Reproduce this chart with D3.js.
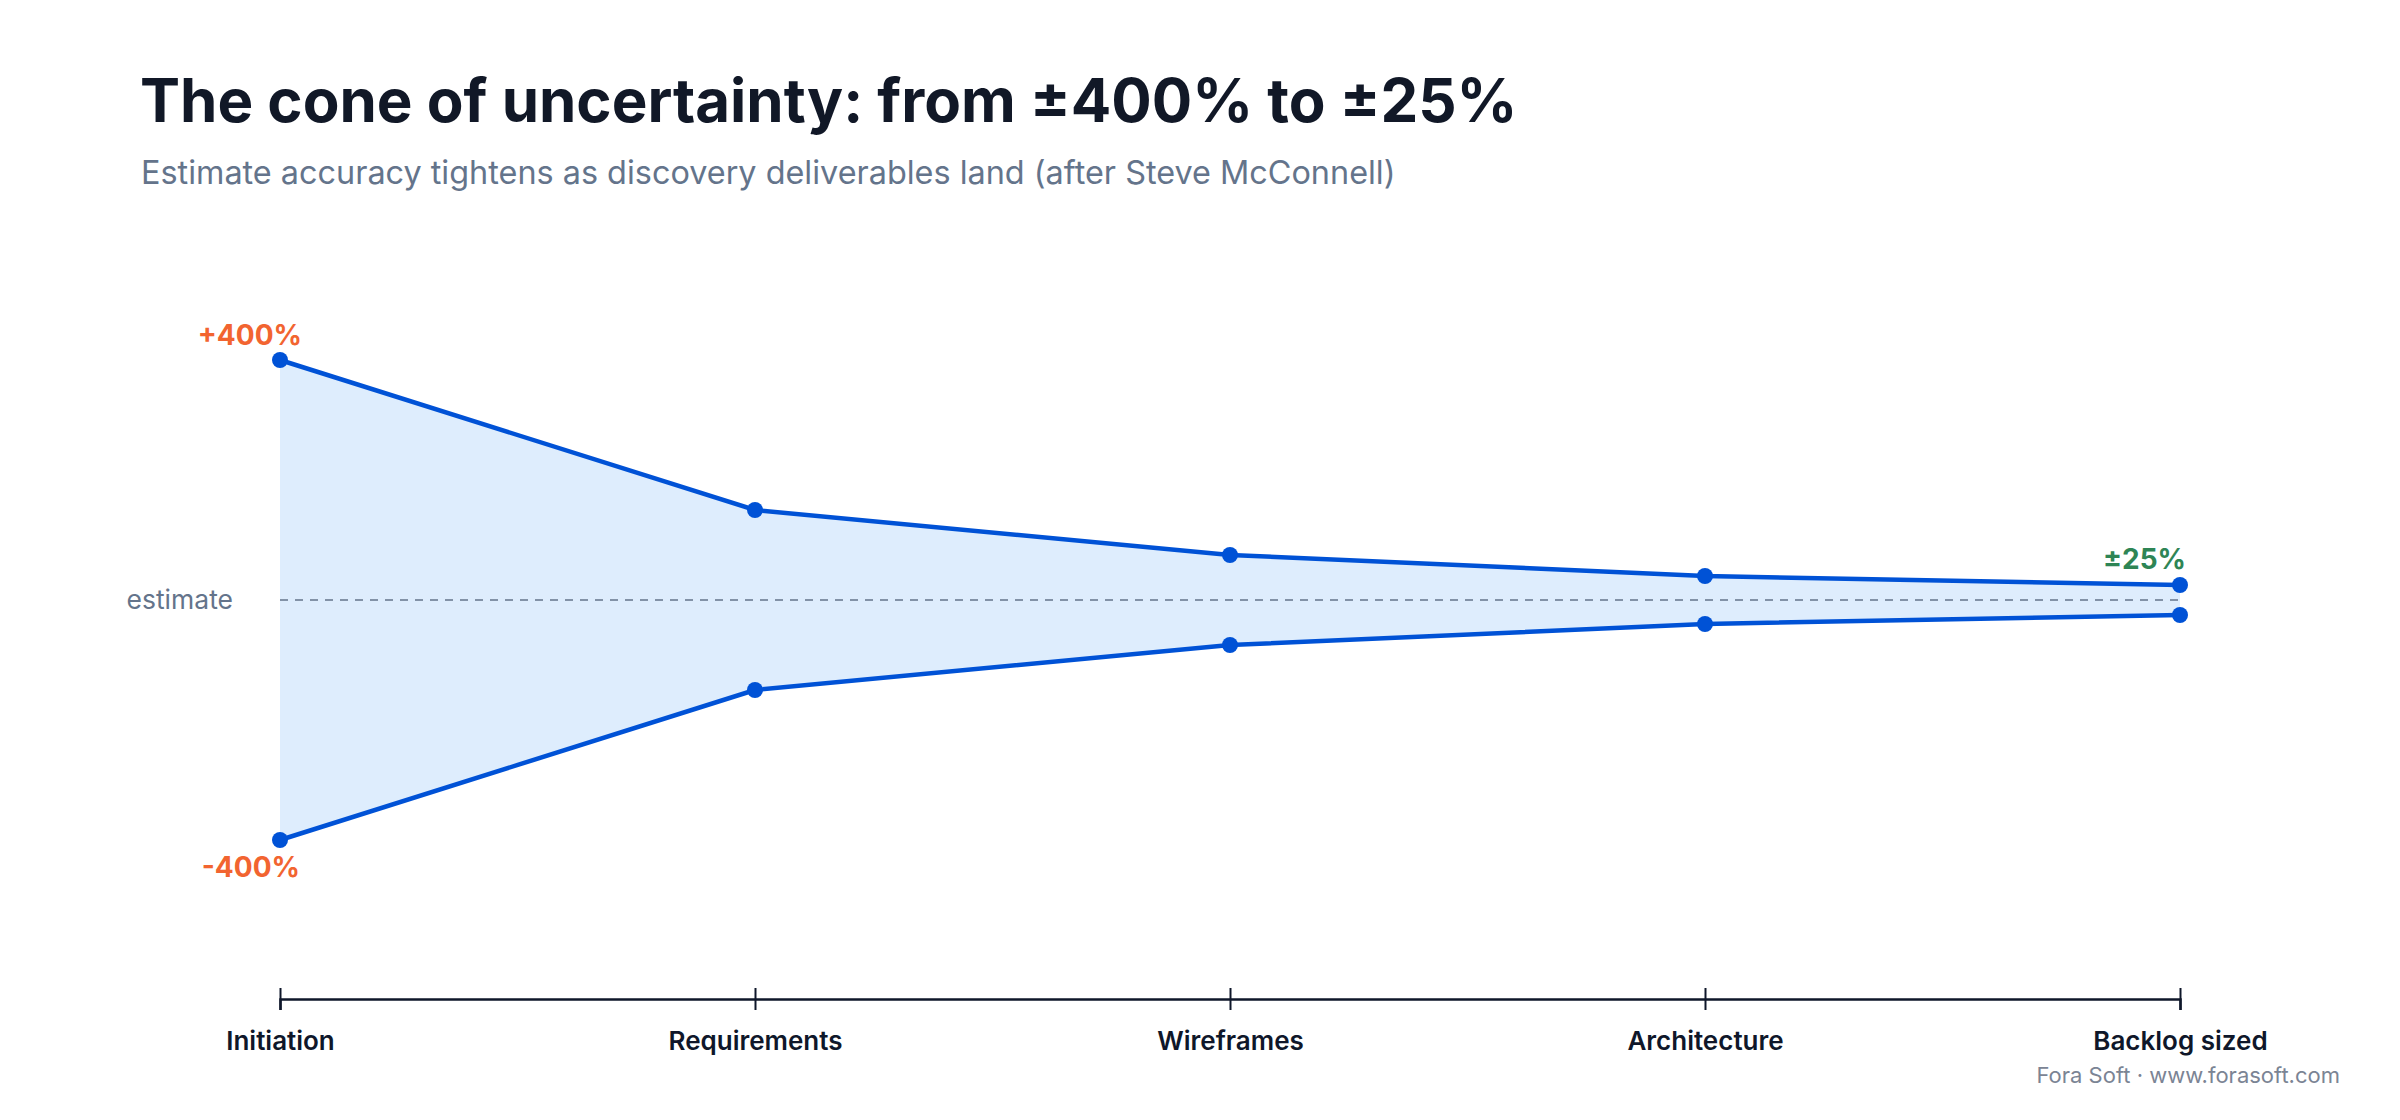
<!DOCTYPE html>
<html>
<head>
<meta charset="utf-8">
<script src="https://cdn.jsdelivr.net/npm/d3@7/dist/d3.min.js"></script>
<style>
  html, body { margin: 0; padding: 0; background: #ffffff; }
  svg { display: block; font-family: Inter, "Noto Sans", sans-serif; }
</style>
</head>
<body>
<svg id="chart" width="2400" height="1120"></svg>
<script>
// phases along the discovery timeline
const phases = ['Initiation', 'Requirements', 'Wireframes', 'Architecture', 'Backlog sized'];
// estimate spread (± %) at each phase
const spread = [400, 150, 75, 40, 25];

const W = 2400, H = 1120;
const svg = d3.select('#chart');

const x = d3.scalePoint().domain(phases).range([280, 2180]);
const y = d3.scaleLinear().domain([-500, 500]).range([900, 300]);

const rows = phases.map((p, i) => ({ phase: p, v: spread[i] }));

// title + subtitle
svg.append('text')
  .attr('x', 140).attr('y', 122)
  .attr('font-size', 60).attr('font-weight', 700)
  .attr('fill', '#111827')
  .text('The cone of uncertainty: from ±400% to ±25%');

svg.append('text')
  .attr('x', 141).attr('y', 184)
  .attr('font-size', 32.4)
  .attr('fill', '#64748b')
  .text('Estimate accuracy tightens as discovery deliverables land (after Steve McConnell)');

// cone fill
const area = d3.area()
  .x((d) => x(d.phase))
  .y0((d) => y(-d.v))
  .y1((d) => y(d.v));

svg.append('path')
  .datum(rows)
  .attr('d', area)
  .attr('fill', '#deedfd');

// estimate baseline
svg.append('line')
  .attr('x1', x(phases[0])).attr('x2', x(phases[phases.length - 1]))
  .attr('y1', y(0)).attr('y2', y(0))
  .attr('stroke', '#64748b')
  .attr('stroke-width', 1.6)
  .attr('stroke-dasharray', '8,7');

svg.append('text')
  .attr('x', x(phases[0]) - 47).attr('y', y(0))
  .attr('dy', '0.35em')
  .attr('text-anchor', 'end')
  .attr('font-size', 26.5)
  .attr('fill', '#64748b')
  .text('estimate');

// upper and lower bounds
const upper = d3.line().x((d) => x(d.phase)).y((d) => y(d.v));
const lower = d3.line().x((d) => x(d.phase)).y((d) => y(-d.v));

[upper, lower].forEach((gen) => {
  svg.append('path')
    .datum(rows)
    .attr('d', gen)
    .attr('fill', 'none')
    .attr('stroke', '#0052d6')
    .attr('stroke-width', 4.5)
    .attr('stroke-linejoin', 'round');
});

const dots = svg.append('g');
[1, -1].forEach((sign) => {
  dots.selectAll(null)
    .data(rows)
    .enter()
    .append('circle')
    .attr('cx', (d) => x(d.phase))
    .attr('cy', (d) => y(sign * d.v))
    .attr('r', 8)
    .attr('fill', '#0052d6');
});

// end labels
const first = rows[0];
const last = rows[rows.length - 1];

svg.append('text')
  .attr('x', x(first.phase) + 22).attr('y', y(first.v) - 15)
  .attr('text-anchor', 'end')
  .attr('font-size', 28).attr('font-weight', 700)
  .attr('fill', '#f26430')
  .text(`+${first.v}%`);

svg.append('text')
  .attr('x', x(first.phase) + 20).attr('y', y(-first.v) + 37)
  .attr('text-anchor', 'end')
  .attr('font-size', 28).attr('font-weight', 700)
  .attr('fill', '#f26430')
  .text(`-${first.v}%`);

svg.append('text')
  .attr('x', x(last.phase) + 6).attr('y', y(last.v) - 16)
  .attr('text-anchor', 'end')
  .attr('font-size', 28).attr('font-weight', 700)
  .attr('fill', '#2e8555')
  .text(`±${last.v}%`);

// phase axis
const axis = svg.append('g')
  .attr('transform', 'translate(0,999)')
  .call(d3.axisBottom(x).tickSizeOuter(0).tickSize(11));

axis.select('.domain').attr('stroke', '#0f172a').attr('stroke-width', 2.5);
axis.selectAll('.tick line')
  .attr('y1', -11).attr('y2', 11)
  .attr('stroke', '#0f172a').attr('stroke-width', 2);
axis.selectAll('.tick text')
  .attr('y', 51).attr('dy', null)
  .attr('font-family', 'Inter, sans-serif')
  .attr('font-size', 26).attr('font-weight', 600)
  .attr('fill', '#0f172a');

// source
svg.append('text')
  .attr('x', 2340).attr('y', 1083)
  .attr('text-anchor', 'end')
  .attr('font-size', 22)
  .attr('fill', '#7b8494')
  .text('Fora Soft · www.forasoft.com');
</script>
</body>
</html>
